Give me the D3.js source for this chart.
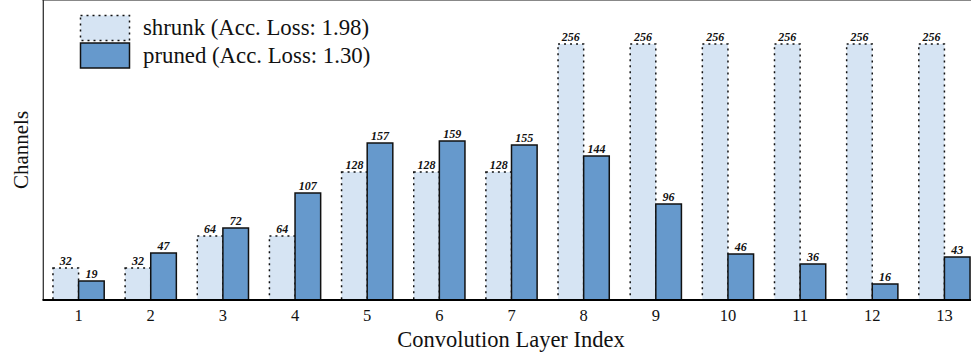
<!DOCTYPE html>
<html><head><meta charset="utf-8">
<script src="https://cdn.jsdelivr.net/npm/d3@7"></script>
<style>
html,body{margin:0;padding:0;background:#fff;}
svg{display:block;font-family:"Liberation Serif","Times New Roman",serif;}
</style></head>
<body><svg id="c" width="971" height="358"></svg>
<script>
const layers = ["1","2","3","4","5","6","7","8","9","10","11","12","13"];
const shrunk = [32,32,64,64,128,128,128,256,256,256,256,256,256];
const pruned = [19,47,72,107,157,159,155,144,96,46,36,16,43];
const seriesNames = ["shrunk (Acc. Loss: 1.98)","pruned (Acc. Loss: 1.30)"];
const xTitle = "Convolution Layer Index";
const yTitle = "Channels";

(function(){
const svg = d3.select("#c");
const pl = 42.5, pr = 980.5, pt = 1, pb = 300;
const x = d3.scaleBand().domain(layers).range([pl, pr]).paddingInner(0.29).paddingOuter(0.145);
const y = d3.scaleLinear().domain([0, 299]).range([pb, pt]);
const bw = x.bandwidth()/2;

// frame
svg.append("line").attr("x1",pl).attr("x2",971).attr("y1",0.5).attr("y2",0.5).attr("stroke","#888").attr("stroke-width",1.2);
svg.append("line").attr("x1",43.3).attr("x2",43.3).attr("y1",0).attr("y2",pb).attr("stroke","#333").attr("stroke-width",1.3);

const shrunkFill = "#d6e4f3", prunedFill = "#6699cc";

const g = svg.append("g");
g.selectAll("rect.s").data(layers).join("rect").attr("class","s")
  .attr("x", d=>x(d)).attr("width", bw)
  .attr("y", (d,i)=>y(shrunk[i])).attr("height",(d,i)=>y(0)-y(shrunk[i]))
  .attr("fill", shrunkFill).attr("stroke","#111").attr("stroke-width",1.5).attr("stroke-dasharray","2,4");
g.selectAll("rect.p").data(layers).join("rect").attr("class","p")
  .attr("x", d=>x(d)+bw).attr("width", bw)
  .attr("y", (d,i)=>y(pruned[i])).attr("height",(d,i)=>y(0)-y(pruned[i]))
  .attr("fill", prunedFill).attr("stroke","#111").attr("stroke-width",1.5);

const lab = {"font-size":"12px","font-weight":"bold","font-style":"italic","text-anchor":"middle","fill":"#111"};
g.selectAll("text.s").data(layers).join("text").attr("class","s")
  .attr("x", d=>x(d)+bw/2).attr("y",(d,i)=>y(shrunk[i])-3)
  .text((d,i)=>shrunk[i]).each(function(){for(const k in lab) d3.select(this).attr(k,lab[k]);});
g.selectAll("text.p").data(layers).join("text").attr("class","p")
  .attr("x", d=>x(d)+bw*1.5).attr("y",(d,i)=>y(pruned[i])-3)
  .text((d,i)=>pruned[i]).each(function(){for(const k in lab) d3.select(this).attr(k,lab[k]);});

// x axis
const ax = svg.append("g").attr("transform",`translate(0,${pb})`).call(d3.axisBottom(x).tickSize(0).tickPadding(9));
ax.select(".domain").attr("stroke","#000").attr("stroke-width",2).attr("d",`M${pl},0H971`);
ax.selectAll("text").attr("font-size","16.5px").attr("font-family","Liberation Serif").attr("fill","#111");

svg.append("text").attr("x",511).attr("y",347).attr("text-anchor","middle").attr("font-size","22.5px").attr("fill","#111").text(xTitle);
svg.append("text").attr("transform","translate(28,150) rotate(-90)").attr("text-anchor","middle").attr("font-size","21px").attr("fill","#111").text(yTitle);

// legend
const leg = svg.append("g");
leg.append("rect").attr("x",80.5).attr("y",15.5).attr("width",49).attr("height",25).attr("fill",shrunkFill).attr("stroke","#111").attr("stroke-width",1.5).attr("stroke-dasharray","2,4");
leg.append("rect").attr("x",80.5).attr("y",43).attr("width",49).attr("height",25).attr("fill",prunedFill).attr("stroke","#111").attr("stroke-width",1.5);
leg.append("text").attr("x",143).attr("y",35).attr("font-size","22.8px").attr("fill","#111").text(seriesNames[0]);
leg.append("text").attr("x",143).attr("y",63).attr("font-size","22.8px").attr("fill","#111").text(seriesNames[1]);
})();
</script></body></html>
